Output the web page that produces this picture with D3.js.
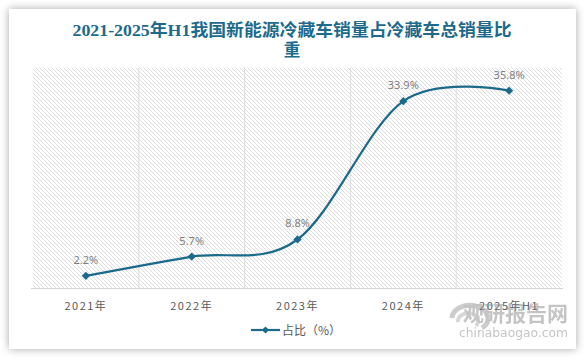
<!DOCTYPE html>
<html><head><meta charset="utf-8">
<script src="https://cdn.jsdelivr.net/npm/d3@7"></script>
<style>
html,body{margin:0;padding:0;background:#fff;}
svg{display:block;}
</style></head>
<body>
<svg id="chart" width="584" height="359"></svg>
<script>
const title1 = "2021-2025年H1我国新能源冷藏车销量占冷藏车总销量比";
const title2 = "重";
const categories = ["2021年","2022年","2023年","2024年","2025年H1"];
const shares = [2.2, 5.7, 8.8, 33.9, 35.8];
const valueLabels = ["2.2%","5.7%","8.8%","33.9%","35.8%"];
const seriesName = "占比（%）";
const yDomain = [0, 40];

(function(){
const svg = d3.select("#chart");
const defs = svg.append("defs");
const f = defs.append("filter").attr("id","sh").attr("x","-10%").attr("y","-10%").attr("width","120%").attr("height","120%");
f.append("feGaussianBlur").attr("in","SourceAlpha").attr("stdDeviation",4).attr("result","b");
f.append("feOffset").attr("in","b").attr("dx",0).attr("dy",0).attr("result","o");
f.append("feComponentTransfer").attr("in","o").attr("result","o2")
  .append("feFuncA").attr("type","linear").attr("slope",0.35);
const fm = f.append("feMerge");
fm.append("feMergeNode").attr("in","o2");
fm.append("feMergeNode").attr("in","SourceGraphic");

const pat = defs.append("pattern").attr("id","hatch").attr("patternUnits","userSpaceOnUse")
  .attr("width",4).attr("height",4);
pat.append("rect").attr("width",4).attr("height",4).attr("fill","#fff");
pat.append("path").attr("d","M-1,-1 L5,5 M-1,3 L1,5 M3,-1 L5,1")
  .attr("stroke","#d9d9d9").attr("stroke-width",0.9);

// card
svg.append("rect").attr("x",9).attr("y",9).attr("width",567).attr("height",340)
  .attr("fill","#fff").attr("filter","url(#sh)");

// title
const tc = "#1d6a8c";
svg.append("text").attr("x",292).attr("y",36).attr("text-anchor","middle")
  .attr("font-family","'Liberation Serif','Noto Sans CJK SC',serif").attr("font-weight","bold")
  .attr("font-size",16.5).attr("fill",tc)
  .attr("textLength",439).attr("lengthAdjust","spacingAndGlyphs").text(title1);
svg.append("text").attr("x",292).attr("y",56).attr("text-anchor","middle")
  .attr("font-family","'Liberation Serif','Noto Sans CJK SC',serif").attr("font-weight","bold")
  .attr("font-size",16.5).attr("fill",tc).text(title2);

const pLeft = 33, pRight = 562, pTop = 67.5, pBottom = 288;
const x = d3.scaleBand().domain(categories).range([pLeft,pRight]);
const y = d3.scaleLinear().domain(yDomain).range([pBottom, pTop]);

// plot area hatch
svg.append("rect").attr("x",pLeft).attr("y",pTop).attr("width",pRight-pLeft).attr("height",pBottom-pTop)
  .attr("fill","url(#hatch)");

// vertical gridlines at band boundaries
svg.append("g").selectAll("line").data(categories.slice(1)).join("line")
  .attr("x1",d=>x(d)).attr("x2",d=>x(d)).attr("y1",pTop).attr("y2",pBottom)
  .attr("stroke","#dcdcdc").attr("stroke-width",1);

// x axis
const xAxis = d3.axisBottom(x).tickSize(0).tickPadding(14);
const gx = svg.append("g").attr("transform",`translate(0,${pBottom})`).call(xAxis);
gx.select(".domain").attr("stroke","#d4d4d4").attr("d",`M${pLeft-2},0.5H${pRight+1}`);
gx.selectAll("text").attr("font-family","'Noto Sans CJK SC','Noto Sans',sans-serif")
  .attr("font-size",11).attr("fill","#595959").attr("letter-spacing","1.5px");

// line
const cx = d => x(d) + x.bandwidth()/2;
const pts = categories.map((c,i)=>[cx(c), y(shares[i])]);
const lc = "#1b6a8c";
svg.append("path").datum(pts)
  .attr("d", d3.line().curve(d3.curveCardinal.tension(0)))
  .attr("fill","none").attr("stroke",lc).attr("stroke-width",2.2);

const diamond = d3.symbol(d3.symbolSquare, 34);
svg.append("g").selectAll("path").data(pts).join("path")
  .attr("d", diamond).attr("fill",lc)
  .attr("transform", d=>`translate(${d[0]},${d[1]}) rotate(45)`);

svg.append("g").selectAll("text").data(pts).join("text")
  .attr("x",d=>d[0]).attr("y",d=>d[1]-12).attr("text-anchor","middle")
  .attr("font-family","'Noto Sans','DejaVu Sans',sans-serif").attr("font-size",11)
  .attr("fill","#7f7f7f").text((d,i)=>valueLabels[i]);

// legend
const lg = svg.append("g");
lg.append("line").attr("x1",251).attr("x2",280).attr("y1",330).attr("y2",330)
  .attr("stroke",lc).attr("stroke-width",2.2);
lg.append("path").attr("d",d3.symbol(d3.symbolSquare,26)).attr("fill",lc)
  .attr("transform","translate(265.5,330) rotate(45)");
lg.append("text").attr("x",282).attr("y",334.5)
  .attr("font-family","'Noto Sans CJK SC',sans-serif").attr("font-size",12)
  .attr("fill","#595959").text(seriesName);

// watermark
const wm = svg.append("g").attr("opacity",0.5);
wm.append("path").attr("d","M452,318 a18,13 0 1,1 30,10").attr("fill","none").attr("stroke","#9a9a9a").attr("stroke-width",5);
wm.append("path").attr("d","M458,322 a10,8 0 1,1 18,4").attr("fill","none").attr("stroke","#b0b0b0").attr("stroke-width",4);
wm.append("text").attr("x",463).attr("y",321).attr("font-family","'Noto Sans CJK SC',sans-serif")
  .attr("font-weight","bold").attr("font-size",21).attr("fill","#8a8a8a")
  .attr("textLength",105).attr("lengthAdjust","spacingAndGlyphs").text("观研报告网");
wm.append("text").attr("x",459).attr("y",337).attr("font-family","'DejaVu Sans',sans-serif")
  .attr("font-size",12).attr("fill","#8a8a8a")
  .attr("textLength",109).attr("lengthAdjust","spacingAndGlyphs").text("chinabaogao.com");
})();
</script>
</body></html>
